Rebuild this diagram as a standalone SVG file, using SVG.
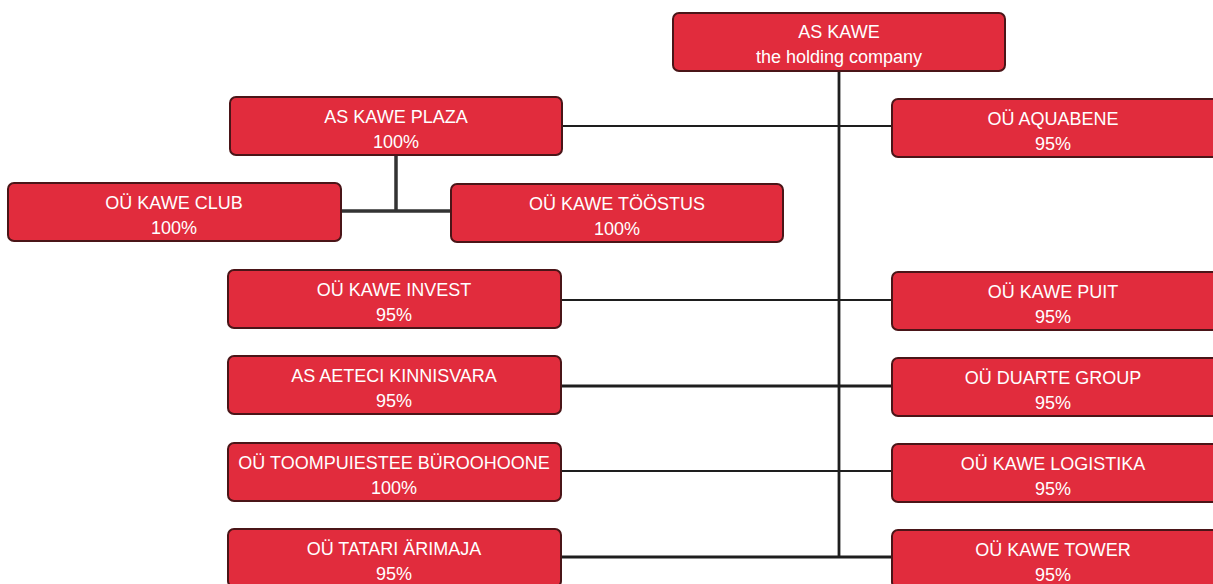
<svg xmlns="http://www.w3.org/2000/svg" width="1213" height="584" viewBox="0 0 1213 584">
<style>
.box{fill:#E12C3D;stroke:#4a1518;stroke-width:2}
.t{fill:#ffffff;font-family:"Liberation Sans Narrow","Liberation Sans",sans-serif;font-size:18px;text-anchor:middle}
.ln{stroke:#1e1e1e;stroke-width:2.2;fill:none}
</style>
<rect width="1213" height="584" fill="#ffffff"/>
<g id="connectors">
<path class="ln" d="M839 71 V557" style="stroke-width:2.8"/>
<path class="ln" d="M562 126 H892"/>
<path class="ln" d="M396 155 V211 M341 211 H451" style="stroke-width:3.5;stroke:#333"/>
<path class="ln" d="M561 300 H892"/>
<path class="ln" d="M561 386 H892" style="stroke-width:2.8"/>
<path class="ln" d="M561 471 H892"/>
<path class="ln" d="M561 557 H892" style="stroke-width:3"/>
</g>
<g id="n-kawe"><rect class="box" x="673" y="13" width="332" height="58" rx="6"/><text class="t" x="839" y="38">AS KAWE</text><text class="t" x="839" y="63">the holding company</text></g>
<g id="n-plaza"><rect class="box" x="230" y="97" width="332" height="58" rx="6"/><text class="t" x="396" y="123">AS KAWE PLAZA</text><text class="t" x="396" y="148">100%</text></g>
<g id="n-club"><rect class="box" x="8" y="183" width="333" height="58" rx="6"/><text class="t" x="174" y="209">OÜ KAWE CLUB</text><text class="t" x="174" y="234">100%</text></g>
<g id="n-toostus"><rect class="box" x="451" y="184" width="332" height="58" rx="6"/><text class="t" x="617" y="210">OÜ KAWE TÖÖSTUS</text><text class="t" x="617" y="235">100%</text></g>
<g id="n-aquabene"><rect class="box" x="892" y="99" width="340" height="58" rx="6"/><text class="t" x="1053" y="125">OÜ AQUABENE</text><text class="t" x="1053" y="150">95%</text></g>
<g id="n-invest"><rect class="box" x="228" y="270" width="333" height="58" rx="6"/><text class="t" x="394" y="296">OÜ KAWE INVEST</text><text class="t" x="394" y="321">95%</text></g>
<g id="n-puit"><rect class="box" x="892" y="272" width="340" height="58" rx="6"/><text class="t" x="1053" y="298">OÜ KAWE PUIT</text><text class="t" x="1053" y="323">95%</text></g>
<g id="n-aeteci"><rect class="box" x="228" y="356" width="333" height="58" rx="6"/><text class="t" x="394" y="382">AS AETECI KINNISVARA</text><text class="t" x="394" y="407">95%</text></g>
<g id="n-duarte"><rect class="box" x="892" y="358" width="340" height="58" rx="6"/><text class="t" x="1053" y="384">OÜ DUARTE GROUP</text><text class="t" x="1053" y="409">95%</text></g>
<g id="n-toompuiestee"><rect class="box" x="228" y="443" width="333" height="58" rx="6"/><text class="t" x="394" y="469">OÜ TOOMPUIESTEE BÜROOHOONE</text><text class="t" x="394" y="494">100%</text></g>
<g id="n-logistika"><rect class="box" x="892" y="444" width="340" height="58" rx="6"/><text class="t" x="1053" y="470">OÜ KAWE LOGISTIKA</text><text class="t" x="1053" y="495">95%</text></g>
<g id="n-tatari"><rect class="box" x="228" y="529" width="333" height="58" rx="6"/><text class="t" x="394" y="555">OÜ TATARI ÄRIMAJA</text><text class="t" x="394" y="580">95%</text></g>
<g id="n-tower"><rect class="box" x="892" y="530" width="340" height="58" rx="6"/><text class="t" x="1053" y="556">OÜ KAWE TOWER</text><text class="t" x="1053" y="581">95%</text></g>
</svg>
